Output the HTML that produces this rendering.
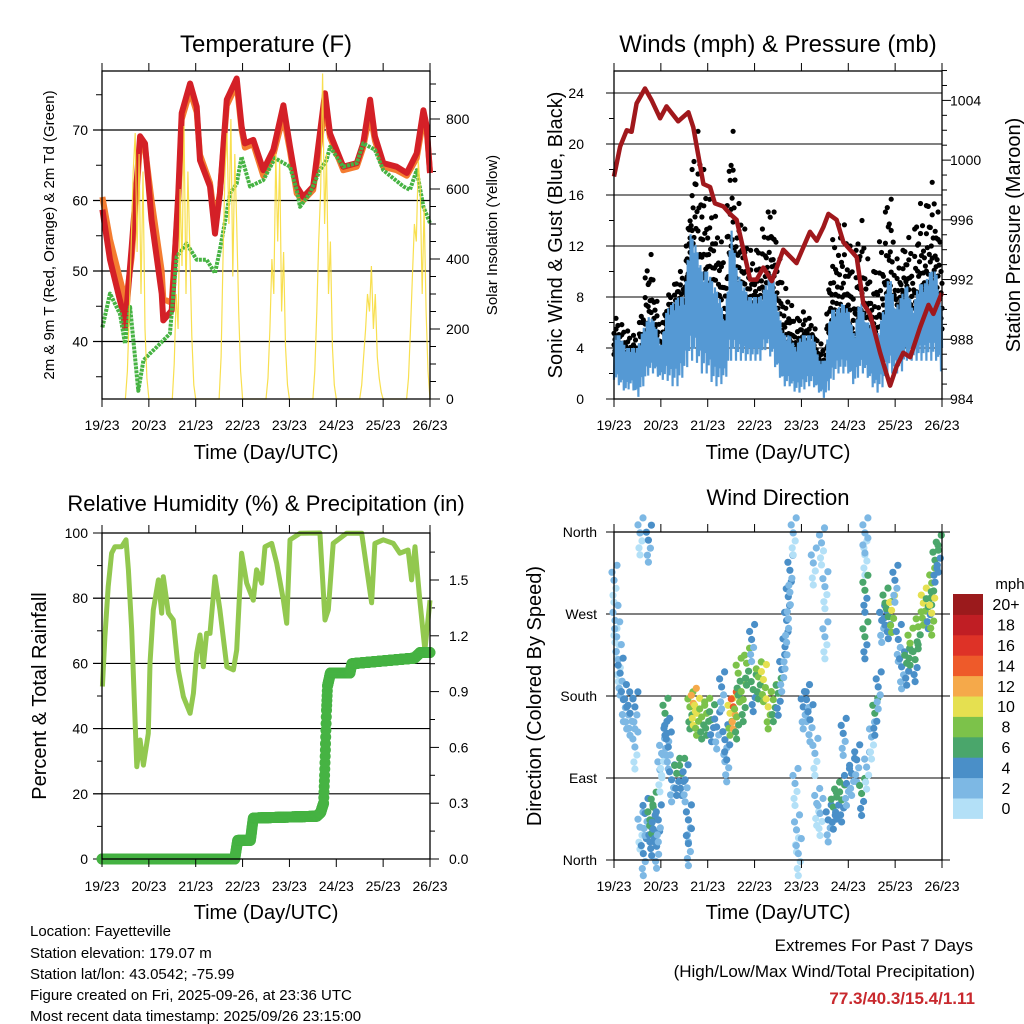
<!DOCTYPE html>
<html><head><meta charset="utf-8"><style>
html,body{margin:0;padding:0;background:#fff;}
svg{display:block;font-family:"Liberation Sans",Arial,sans-serif;}
</style></head><body>
<svg id="c" width="1024" height="1024" viewBox="0 0 1024 1024" xmlns="http://www.w3.org/2000/svg">
<rect x="0" y="0" width="1024" height="1024" fill="#fff"/>
<g id="p1"></g>
<g id="p2"></g>
<g id="p3"></g>
<g id="p4"></g>
<g font-size="15" fill="#000">
<text x="30" y="936">Location: Fayetteville</text>
<text x="30" y="958">Station elevation: 179.07 m</text>
<text x="30" y="979">Station lat/lon: 43.0542; -75.99</text>
<text x="30" y="1000">Figure created on Fri, 2025-09-26, at 23:36 UTC</text>
<text x="30" y="1021">Most recent data timestamp: 2025/09/26 23:15:00</text>
</g>
<g text-anchor="end">
<text x="973" y="951" font-size="17">Extremes For Past 7 Days</text>
<text x="975" y="977" font-size="17">(High/Low/Max Wind/Total Precipitation)</text>
<text x="975" y="1004" font-size="17" font-weight="bold" fill="#c8282d">77.3/40.3/15.4/1.11</text>
</g>
</svg>
<script>
// ---------- data ----------
const dayLabels = ["19/23","20/23","21/23","22/23","23/23","24/23","25/23","26/23"];
const tempTicks = [40,50,60,70];
const solarTicks = [0,200,400,600,800];
const windTicks = [0,4,8,12,16,20,24];
const presTicks = [984,988,992,996,1000,1004];
const rhTicks = [0,20,40,60,80,100];
const rainTicks = ["0.0","0.3","0.6","0.9","1.2","1.5"];
const dirTicks = ["North","East","South","West","North"];
const speedBins = ["0","2","4","6","8","10","12","14","16","18","20+"];

const redHours = [0.2,4.1,10.9,11.8,15.2,19.5,22,25.4,30.6,31.4,35.7,39.1,40.8,45.1,48.5,50.2,55.3,57.9,60.4,63.9,69,71.5,73.2,77.5,82.6,87.8,92.9,96.3,99.7,103.1,108.2,114.2,116.8,123.6,130.5,133.8,137.3,139.8,144.1,150.9,156.1,161.2,164.6,166.3,168];
const redT = [58.7,51.6,43.9,42.0,53.4,69.1,68.1,57.2,46.8,43.0,44.4,61.0,72.4,76.6,73.3,65.7,62.0,55.3,61.0,74.3,77.3,70.5,68.1,68.6,64.3,67.2,73.5,67.6,62.0,60.5,62.0,75.2,69.5,64.8,65.3,68.1,74.3,69.1,65.3,64.8,63.9,66.7,72.8,70.5,63.9];
const orangeT = [60.5,54.5,47,44.5,52,68,67.5,60,50,46,45.5,60,71.5,75.5,72.5,66.5,62.5,57,61,73.5,76.5,70,67.5,68,63.5,66.5,72,67,61,60,61.5,73.5,69,64.3,64.8,67.5,72.5,68.5,64.8,64.3,63.5,66,71.5,70,64];
const dewHours = [0.2,4.1,9.2,11.8,14.4,18.6,21.2,24.6,28,34.8,38.2,43.3,48.5,53.6,57.9,60.4,65.6,69,71.5,75.8,82.6,88.6,96.3,99.7,101.4,106.5,111.6,115,116.8,123.6,130.5,133.8,139.8,144.1,154.3,157.7,161.2,164.6,168];
const dewT = [42,46.8,43.9,39.7,44.9,33,37.3,38.3,39.2,41.1,52,53.9,51.6,51.6,49.7,53,61,62.4,66.2,62,62.9,66,64.8,61.5,59.1,61,64.3,65.7,67.6,64.8,65.3,68.1,67.2,64.3,62,61.5,64.3,59.1,56.8];
// solar insolation, hourly from hour 12 to 24 of each day
const solarDays = [
 [0,80,250,450,650,760,420,700,300,650,200,60,0],
 [0,100,300,200,600,380,780,300,650,420,180,40,0],
 [0,120,400,650,760,500,800,350,700,500,250,80,0],
 [0,60,200,400,300,700,450,680,250,420,150,40,0],
 [0,80,250,450,600,930,500,700,300,450,150,40,0],
 [0,40,120,200,300,250,380,200,300,120,60,20,0],
 [0,60,200,350,500,450,680,600,300,550,250,80,0]
];
// winds, every 3 hours
const windLo = [1.5,1,0.5,1,0,1,2,2,1.5,1.5,1,1,2,3,3,2,2,1,1,1.5,3,3,3,3,3,3,4,3,2,1,1,0.5,0.5,1,1,0.5,0,1,2,2,2,1,2,2,1,0.5,1,2,2,2,3,3,3,3,3,3,2];
const windHi = [5,5,4,4,4,5.5,6.5,6,4,7,7.5,8,8,13,12,10,10,9,8,6,13.5,10,9,8,8,8,9,10,7,5,5,4,5,5,5,3,3,7,7,7.5,7,5,8,6,6,5,7,10,7,8,9,7,9,9,10,10,7];
const gust = [6.5,6,5.5,5,5,8,12.5,9,5,8,8.5,10,10,16,22,19,16,15,13,11,23.5,16,14,12,11,13,14,16,12,9,8,6,7,6.5,6,4.5,4,12,13.5,14,13,10,15,12,9,12,13,18,11,11,13,12,16,14,17.5,16,12];
const presHours = [0,3.1,6.5,9.0,11.6,15.9,19.3,23.6,26.9,32.9,38.1,40.6,45.8,49.2,51.7,56,59.4,62.8,66.3,69.7,73.1,76.5,80.8,86.7,93.5,100.4,103.8,107.2,109.8,114,117.5,124.3,127.7,131.1,136.3,141.4,144.8,148.2,151.7,156.8,161.1,163.6,167.9];
const presMb = [998.9,1000.9,1002.0,1001.9,1003.8,1004.8,1004.0,1002.8,1003.6,1002.6,1003.2,1002.2,998.4,998.2,997.1,996.9,996.4,996.0,994.0,992.0,992.0,992.8,991.9,994.0,993.1,995.2,994.6,995.5,996.4,996.0,994.5,993.5,990.4,989.7,987.1,984.9,986.2,987.1,986.8,988.8,990.3,989.7,991.1];
const rhHours = [0.2,1.5,3.2,4.9,6.6,10.1,12.3,13.5,15.2,17.8,19.5,21.2,23.7,24.6,26.3,28.9,30.6,31.4,34.0,36.5,39.1,41.7,45.1,46.8,48.5,50.2,51.9,53.6,55.3,57.9,60.4,63.9,67.3,69.0,71.5,74.1,77.5,79.2,81.8,83.5,86.9,89.5,92.9,94.6,96.3,101.4,111.6,114.2,115.9,118.4,125.3,133,138.1,139.8,144.1,149.2,152.6,156.8,158.6,160.3,162.8,165.4,168];
const rhPct = [52.9,68.2,83.5,93.8,95.8,95.8,97.9,88.7,70.2,28.3,36.5,28.8,38.5,60.0,76.4,85.6,75.4,86.6,75.4,73.3,58.0,49.8,44.7,50.8,63.1,68.7,59.0,69.2,69.2,86.6,76.4,59.0,58.0,64.1,93.8,84.6,79.4,88.7,84.6,95.8,96.8,90.7,79.4,72.3,97.9,99.9,100,73.3,76.4,96.8,99.9,99.9,78.6,96.8,97.9,96.8,93.8,94.8,85.6,95.8,79.4,64.1,79.4];
const rainHours = [0,68,69.5,76,77.5,110,112,113.5,114,114.5,115,115.5,117,127,128,160,163,168];
const rainIn = [0,0,0.10,0.10,0.22,0.23,0.25,0.30,0.45,0.62,0.80,0.93,1.00,1.00,1.05,1.08,1.11,1.11];
const dirHours = [0,0.5,1.4,2.2,3.1,4.8,6.5,8.2,10.7,10.7,13.3,13.3,15.0,15.9,17.6,18.4,19.3,20.1,21.8,22.7,23.5,24.4,26.1,27.0,27.8,29.5,32.1,34.6,36.4,38.1,38.1,38.9,40.6,42.3,44.9,47.5,50.0,52.6,55.1,56.8,57.7,59.4,61.1,62.8,63.6,66.2,67.9,70.5,71.3,73.9,76.5,79.0,81.6,84.1,85.9,87.6,88.4,89.3,90.1,91.8,92.7,93.5,94.4,96.9,98.6,100.4,102.1,102.9,103.8,105.5,106.3,108.0,108.0,109.7,112.3,114.0,116.6,117.4,119.1,121.7,124.3,126.8,128.5,128.5,128.5,128.5,129.4,131.9,133.6,135.3,137.1,138.8,140.5,142.2,143.9,145.6,147.3,149.9,151.6,154.2,155.8,158.4,161.0,162.7,164.4,166.1,162.7];
const dirDeg = [307,263,245,220,205,176,168,161,168,124,359,36,7,51,351,44,29,58,15,44,99,117,161,139,124,88,95,95,88,44,18,168,172,161,157,161,154,146,190,132,110,161,168,157,205,176,216,242,187,201,198,168,176,183,209,234,263,289,318,359,84,33,7,168,176,154,326,117,62,51,348,300,245,44,58,69,66,139,84,95,110,73,359,337,296,245,102,135,161,190,263,282,267,274,307,242,212,216,238,220,256,282,278,304,329,340,271];
const dirSpd = [2,2,2,2,3,4,4,3,4,1,1,2,3,4,4,6,6,5,4,4,2,2,6,4,3,3,6,6,4,4,4,8,11,9,7,8,6,4,4,4,4,10,14,8,7,7,7,4,5,7,9,10,7,5,4,4,4,4,4,2,2,2,2,4,4,4,1,2,2,1,1,1,1,4,6,6,6,4,4,3,4,6,1,1,6,6,2,2,6,4,4,6,6,10,4,4,4,6,8,6,7,10,6,7,6,6,10];
const binColors = ["#b3e0f7","#7db8e4","#4a8fc8","#4aa66b","#7cc24a","#e5e050","#f5a94a","#ee5a2a","#de3227","#c01e24","#9b1a1c"];

// ---------- helpers ----------
const NS="http://www.w3.org/2000/svg";
function mk(parent,tag,attrs,txt){const e=document.createElementNS(NS,tag);for(const k in attrs)e.setAttribute(k,attrs[k]);if(txt!==undefined)e.textContent=txt;parent.appendChild(e);return e;}
function interp(xs,ys,x){if(x<=xs[0])return ys[0];for(let i=1;i<xs.length;i++){if(x<=xs[i]){const f=(x-xs[i-1])/(xs[i]-xs[i-1]||1);return ys[i-1]+f*(ys[i]-ys[i-1]);}}return ys[ys.length-1];}
function pts(xs,ys,fx,fy){return xs.map((h,i)=>fx(h).toFixed(1)+","+fy(ys[i]).toFixed(1)).join(" ");}
const T0=102,T1=430,B0=614,B1=942;
function xs(x0,x1){return h=>x0+h*(x1-x0)/168;}

function frame(g,x0,x1,y0,y1,tickY){
  for(let d=0;d<8;d++){
    const x=x0+d*(x1-x0)/7;
    let t=mk(g,"line",{x1:x,y1:y0-8,x2:x,y2:y0,stroke:"#000","stroke-width":1});
    
    t=mk(g,"line",{x1:x,y1:y1,x2:x,y2:y1+8,stroke:"#000","stroke-width":1});
    
    const l=mk(g,"text",{x:x,y:tickY,"font-size":14,"text-anchor":"middle"},dayLabels[d]);
    
    
  }
  const r=mk(g,"rect",{x:x0,y:y0,width:x1-x0,height:y1-y0,fill:"none",stroke:"#000","stroke-width":1.3});
  
  
}
function txt(g,x,y,s,size,anchor,name,rot){
  const a={x:x,y:y,"font-size":size,"text-anchor":anchor||"middle"};
  if(rot)a.transform="rotate(-90 "+x+" "+y+")";
  const t=mk(g,"text",a,s);
  
  
  return t;
}

// ---------- Panel 1: Temperature ----------
(function(){
  const g=document.getElementById("p1");
  const fx=xs(T0,T1), fy=v=>130+(70-v)*7.05, fs=v=>399-v*0.35;
  tempTicks.forEach(v=>{const l=mk(g,"line",{x1:93,x2:T1,y1:fy(v),y2:fy(v),stroke:"#000","stroke-width":1.2});
    txt(g,88,fy(v)+5,String(v),14,"end","temp-tick-label");});
  for(let v=35;v<=75;v+=10){mk(g,"line",{x1:96,x2:T0,y1:fy(v),y2:fy(v),stroke:"#000"});}
  for(let v=0;v<=900;v+=50){const ma=v%200===0;mk(g,"line",{x1:T1,x2:T1+(ma?10:6),y1:fs(v),y2:fs(v),stroke:"#000"});}
  solarTicks.forEach(v=>txt(g,446,fs(v)+5,String(v),14,"start","solar-tick-label"));
  const o=mk(g,"polyline",{points:pts(redHours,orangeT,fx,fy),fill:"none",stroke:"#f47c30","stroke-width":6,"stroke-linejoin":"round"});
  
  const r=mk(g,"polyline",{points:pts(redHours,redT,fx,fy),fill:"none",stroke:"#d42027","stroke-width":6,"stroke-linejoin":"round"});
  
  const d=mk(g,"polyline",{points:pts(dewHours,dewT,fx,fy),fill:"none",stroke:"#46b343","stroke-width":4,"stroke-dasharray":"3 1","stroke-linejoin":"round"});
  
  const sh=[],sv=[];
  solarDays.forEach((arr,di)=>arr.forEach((v,k)=>{sh.push(di*24+12+k);sv.push(v);}));
  const s=mk(g,"polyline",{points:pts(sh,sv,fx,fs),fill:"none",stroke:"#f7dc3c","stroke-width":1.2,opacity:0.9});
  
  frame(g,T0,T1,71,399,430);
  txt(g,266,52,"Temperature (F)",24,"middle","temperature-title");
  txt(g,266,459,"Time (Day/UTC)",20,"middle","x-axis-title");
  txt(g,54,235,"2m & 9m T (Red, Orange) & 2m Td (Green)",15,"middle","temp-y-axis-title",true);
  txt(g,497,235,"Solar Insolation (Yellow)",15,"middle","solar-y-axis-title",true);
})();

// ---------- Panel 2: Winds & Pressure ----------
(function(){
  const g=document.getElementById("p2");
  const fx=xs(B0,B1), fy=v=>399-v*12.75, fp=v=>399-(v-984)*14.93;
  windTicks.forEach(v=>{if(v>0){const l=mk(g,"line",{x1:B0,x2:B1,y1:fy(v),y2:fy(v),stroke:"#000","stroke-width":1.1});}
    mk(g,"line",{x1:B0-8,x2:B0,y1:fy(v),y2:fy(v),stroke:"#000"});
    txt(g,584,fy(v)+5,String(v),14,"end","wind-tick-label");});
  for(let v=2;v<26;v+=4)mk(g,"line",{x1:B0-5,x2:B0,y1:fy(v),y2:fy(v),stroke:"#000"});
  for(let v=984;v<=1006;v++){const ma=v%4===0;mk(g,"line",{x1:B1,x2:B1+(ma?9:5),y1:fp(v),y2:fp(v),stroke:"#000"});}
  presTicks.forEach(v=>txt(g,950,fp(v)+5,String(v),14,"start","pressure-tick-label"));
  const wh=windLo.map((_,i)=>i*3);
  const fracSets=[[0,0.25,0.55],[0.1,0.4],[0,0.3,0.7,1],[0.15,0.5],[0,0.2,0.85],[0.05,0.35,0.6]];
  const dots=mk(g,"g",{fill:"#000"});
  
  let n=0;
  for(let h=0;h<=168;h+=0.5,n++){
    const hi=interp(wh,windHi,h), gu=interp(wh,gust,h);
    const base=Math.max(0,hi-1.5);
    fracSets[n%fracSets.length].forEach(f=>{
      mk(dots,"circle",{cx:fx(h).toFixed(1),cy:fy(base+(gu-base)*f).toFixed(1),r:2.6});
    });
  }
  const bp=[];let k=0;
  const pat=[0,1,0.4,0.9,0.1,0.7,0.3,1,0.2,0.6];
  for(let h=0;h<=168;h+=0.25,k++){const lo=interp(wh,windLo,h),hi=interp(wh,windHi,h);const v=lo+(hi-lo)*pat[k%pat.length];bp.push(fx(h).toFixed(1)+","+fy(v).toFixed(1));}
  const b=mk(g,"polyline",{points:bp.join(" "),fill:"none",stroke:"#5599d4","stroke-width":2.2});
  
  const p=mk(g,"polyline",{points:pts(presHours,presMb,fx,fp),fill:"none",stroke:"#a0181c","stroke-width":4.5,"stroke-linejoin":"round"});
  
  frame(g,B0,B1,71,399,430);
  txt(g,778,52,"Winds (mph) & Pressure (mb)",24,"middle","winds-title");
  txt(g,778,459,"Time (Day/UTC)",20,"middle","x-axis-title");
  txt(g,562,235,"Sonic Wind & Gust (Blue, Black)",20,"middle","wind-y-axis-title",true);
  txt(g,1020,235,"Station Pressure (Maroon)",20,"middle","pressure-y-axis-title",true);
})();

// ---------- Panel 3: RH & Precip ----------
(function(){
  const g=document.getElementById("p3");
  const fx=xs(T0,T1), fy=v=>859-v*3.26, fr=v=>859-v*186;
  rhTicks.forEach(v=>{if(v>0&&v<100){const l=mk(g,"line",{x1:93,x2:T1,y1:fy(v),y2:fy(v),stroke:"#000","stroke-width":1.1});}
    mk(g,"line",{x1:93,x2:T0,y1:fy(v),y2:fy(v),stroke:"#000"});
    txt(g,88,fy(v)+5,String(v),14,"end","rh-tick-label");});
  for(let v=10;v<100;v+=20)mk(g,"line",{x1:97,x2:T0,y1:fy(v),y2:fy(v),stroke:"#000"});
  rainTicks.forEach(s=>{const v=parseFloat(s);mk(g,"line",{x1:T1,x2:T1+9,y1:fr(v),y2:fr(v),stroke:"#000"});txt(g,449,fr(v)+5,s,14,"start","rain-tick-label");});
  for(let v=0.15;v<1.75;v+=0.3)mk(g,"line",{x1:T1,x2:T1+5,y1:fr(v),y2:fr(v),stroke:"#000"});
  const rh=mk(g,"polyline",{points:pts(rhHours,rhPct,fx,fy),fill:"none",stroke:"#92c84f","stroke-width":5,"stroke-linejoin":"round"});
  
  const rg=mk(g,"g",{fill:"#46b343"});
  
  for(let h=0;h<=168;h+=0.1){mk(rg,"circle",{cx:fx(h).toFixed(1),cy:fr(interp(rainHours,rainIn,h)).toFixed(1),r:5.5});}
  frame(g,T0,T1,533,859,891);
  txt(g,266,511,"Relative Humidity (%) & Precipitation (in)",22,"middle","humidity-title");
  txt(g,266,919,"Time (Day/UTC)",20,"middle","x-axis-title");
  txt(g,46,696,"Percent & Total Rainfall",20,"middle","rh-y-axis-title",true);
})();

// ---------- Panel 4: Wind Direction ----------
(function(){
  const g=document.getElementById("p4");
  const fx=xs(B0,B1), fy=v=>860-v/360*328;
  dirTicks.forEach((s,i)=>{const y=fy(i*90);const l=mk(g,"line",{x1:B0-8,x2:950,y1:y,y2:y,stroke:"#000","stroke-width":1.1});
    txt(g,597,y+5,s,14,"end","direction-tick-label");});
  const dg=mk(g,"g",{});
  
  const offs=[[0,0,0],[-2,-8,0],[2,8,-1],[-1,15,-1],[3,-15,0],[0,22,-1]];
  dirHours.forEach((h,i)=>{
    const bin=Math.min(10,Math.round(dirSpd[i]/2));
    offs.forEach(o=>{
      const c=mk(dg,"circle",{cx:(fx(h)+o[0]).toFixed(1),cy:(fy(dirDeg[i])+o[1]).toFixed(1),r:3.6,fill:binColors[Math.max(0,bin+o[2])]});
      
      
    });
  });
  frame(g,B0,B1,532,860,891);
  txt(g,778,505,"Wind Direction",22,"middle","wind-direction-title");
  txt(g,778,919,"Time (Day/UTC)",20,"middle","x-axis-title");
  txt(g,541,696,"Direction (Colored By Speed)",20,"middle","direction-y-axis-title",true);
  const cb=mk(g,"g",{});
  
  const bh=20.4, top=594;
  speedBins.forEach((s,i)=>{
    const j=10-i;
    const y=top+j*bh;
    const r=mk(cb,"rect",{x:953,y:y.toFixed(1),width:30,height:bh+0.5,fill:binColors[i]});
    
    
    txt(cb,1006,y+bh/2+6,s,16,"middle","colorbar-label");
  });
  txt(cb,1010,589,"mph",15,"middle","colorbar-title");
})();
</script>
</body></html>
